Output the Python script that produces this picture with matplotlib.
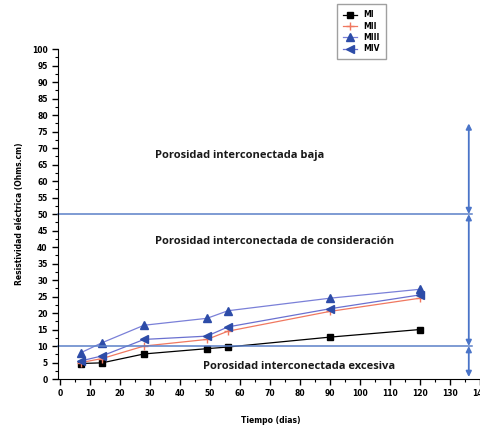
import matplotlib.pyplot as plt
from matplotlib.ticker import MultipleLocator

dias = [7, 14, 28, 49, 56, 90, 120]
mi = [4.7, 4.9, 7.6, 9.2, 9.7, 12.7, 15.0]
mii = [5.0, 6.2, 10.0, 12.0, 14.5, 20.5, 24.5]
miii = [8.0, 11.0, 16.3, 18.4, 20.7, 24.5, 27.2]
miv = [5.5, 7.0, 12.0, 13.0, 15.8, 21.3, 25.5]

limites = [50, 10]
flechas = [(77.5, 50), (50, 10), (10, 0.6)]

fig = plt.figure(figsize=(4.8, 4.3), dpi=100)
ax = fig.add_axes([0.121, 0.1186, 0.885, 0.767])

ax.plot(dias, mi, color='black', lw=0.9, marker='s', ms=5, label='MI')
ax.plot(dias, mii, color='#f07860', lw=0.9, marker='+', ms=6, label='MII')
ax.plot(dias, miii, color='#7a80d8', lw=0.9, marker='^', ms=6,
        mfc='#2d4ca8', mec='#2d4ca8', label='MIII')
ax.plot(dias, miv, color='#6a70d0', lw=0.9, marker='<', ms=6,
        mfc='#2d4ca8', mec='#2d4ca8', label='MIV')

for y in limites:
    ax.plot([-0.67, 137.5], [y, y], color='#5b80c8', lw=1.1, clip_on=False)

for y0, y1 in flechas:
    ax.annotate('', xy=(136.3, y1), xytext=(136.3, y0),
                arrowprops=dict(arrowstyle='<|-|>', color='#4a74c8', lw=1.3,
                                mutation_scale=8, shrinkA=0, shrinkB=0))

tf = dict(fontsize=8, fontweight='bold', family='Open Sans', color='#1a1a1a')
ax.text(31.5, 67, 'Porosidad interconectada baja', **tf)
ax.text(31.5, 41, 'Porosidad interconectada de consideración', **tf)
ax.text(47.5, 3.0, 'Porosidad interconectada excesiva', **tf)

ax.set_xlim(-0.67, 141)
ax.set_ylim(0, 100)
ax.spines['top'].set_visible(False)
ax.spines['right'].set_visible(False)
ax.xaxis.set_major_locator(MultipleLocator(10))
ax.xaxis.set_minor_locator(MultipleLocator(5))
ax.yaxis.set_major_locator(MultipleLocator(5))
ax.yaxis.set_minor_locator(MultipleLocator(2.5))
ax.tick_params(which='major', length=4, width=1, labelsize=5.5)
ax.tick_params(which='minor', length=2, width=0.8)
for lab in ax.get_xticklabels() + ax.get_yticklabels():
    lab.set_fontweight('bold')

ax.set_xlabel('Tiempo (dias)', fontsize=5.5, fontweight='bold', labelpad=13)
ax.set_ylabel('Resistividad eléctrica (Ohms.cm)', fontsize=5.5,
              fontweight='bold', labelpad=6)

leg = ax.legend(loc='upper left', bbox_to_anchor=(0.702, 0.99),
                bbox_transform=fig.transFigure, frameon=True,
                fancybox=False, edgecolor='#888888', handlelength=1.8,
                labelspacing=0.3, borderpad=0.8, borderaxespad=0,
                prop={'weight': 'bold', 'size': 5.5})
leg.get_frame().set_linewidth(1.0)

fig.savefig('out.png', dpi=100)
